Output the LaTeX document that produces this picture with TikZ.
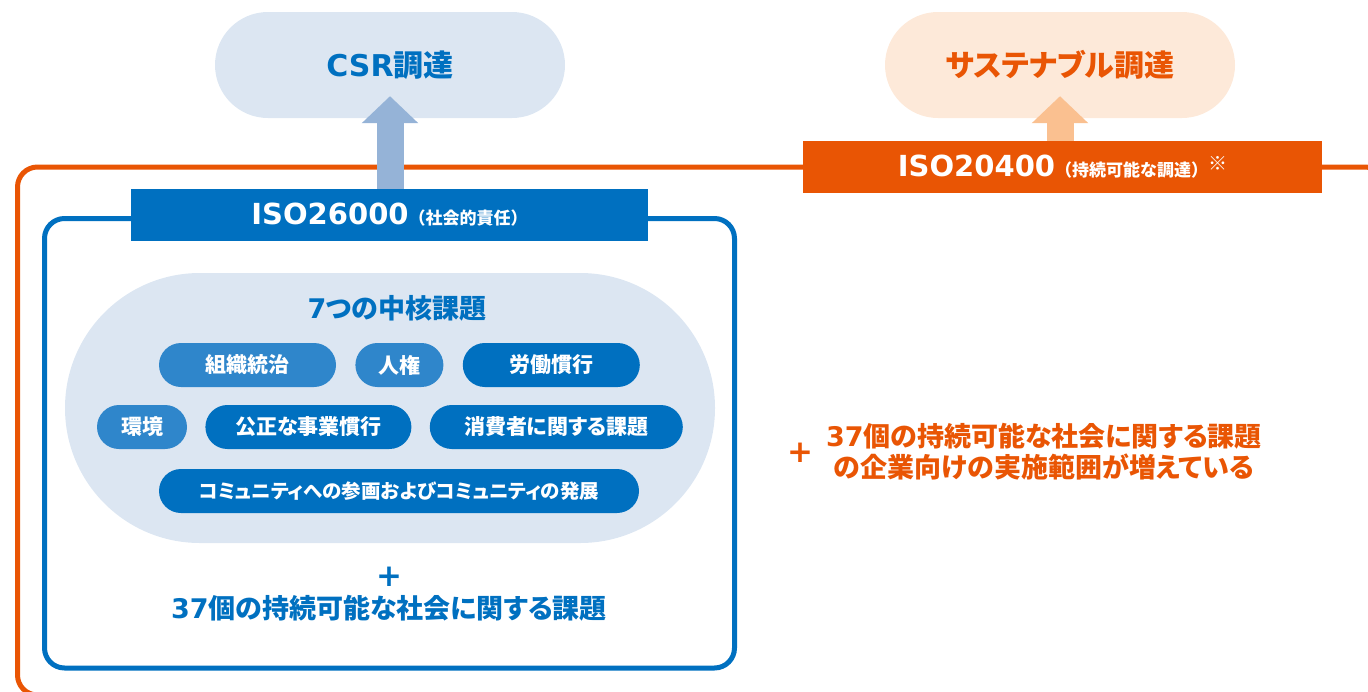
\documentclass[tikz,border=0pt]{standalone}
\usepackage{fontspec}
\setmainfont{Noto Sans CJK JP}[RawFeature=+palt]
\newfontfamily\jpfull{Noto Sans CJK JP}
\newfontfamily\enfont{DejaVu Sans}
\usetikzlibrary{arrows.meta,positioning}
\definecolor{isoblue}{HTML}{0070C0}
\definecolor{midblue}{HTML}{2F86CB}
\definecolor{paleblue}{HTML}{DCE6F2}
\definecolor{arrowblue}{HTML}{95B3D7}
\definecolor{isoorange}{HTML}{E95504}
\definecolor{paleorange}{HTML}{FDE9D9}
\definecolor{arroworange}{HTML}{FAC090}
\newcommand{\en}[1]{{\enfont\bfseries #1}}
\newcommand{\px}[1]{\fontsize{#1pt}{#1pt}\selectfont}
\newcommand{\note}[1]{{\jpfull\bfseries\px{17}#1}}
\tikzset{
  goal/.style={rounded corners=53pt, minimum width=350pt, minimum height=106pt, inner sep=0pt, font=\bfseries\px{30}},
  banner/.style={minimum height=52pt, inner sep=0pt, text=white, font=\bfseries\px{29}},
  topic/.style={rounded corners=22pt, minimum height=44pt, inner sep=0pt, text=white, font=\bfseries\px{21}},
  uparrow/.style={line width=27pt, -{Triangle[width=55pt,length=27pt]}},
  frame/.style={line width=5pt, rounded corners=20pt},
}
\begin{document}
\begin{tikzpicture}[x=1pt,y=-1pt]
  \path[use as bounding box,clip] (0,0) rectangle (1368,691);
  %% Frames
  \draw[frame,isoorange] (17.5,167) rectangle (1385,695);
  \draw[frame,isoblue] (44.5,218.5) rectangle (734.5,668);
  %% Goals
  \node[goal,fill=paleblue,text=isoblue] (csr) at (390,65) {\en{CSR}調達};
  \node[goal,fill=paleorange,text=isoorange] (sus) at (1060,65) {サステナブル調達};
  %% Standards
  \node[banner,fill=isoblue,minimum width=517pt] (iso26) at (389.5,215) {\en{ISO26000}\note{（社会的責任）}};
  \node[banner,fill=isoorange,minimum width=519pt] (iso20) at (1062.5,167) {\en{ISO20400}\note{（持続可能な調達）}\raisebox{6pt}{\px{19}※}};
  %% Arrows up
  \draw[uparrow,arrowblue] (csr.south |- iso26.north) -- ([yshift=22pt]csr.south);
  \draw[uparrow,arroworange] (sus.south |- iso20.north) -- ([yshift=22pt]sus.south);
  %% Core subjects
  \node[fill=paleblue,rounded corners=134.9pt,minimum width=650pt,minimum height=270pt] (core) at (390,408) {};
  \node[text=isoblue,font=\bfseries\px{27}] (title) at (397,308) {\en{7}つの中核課題};
  \node[topic,fill=midblue,minimum width=177pt] (gov) at (247.5,365) {組織統治};
  \node[topic,fill=midblue,minimum width=88pt,right=19pt of gov] (rights) {人権};
  \node[topic,fill=isoblue,minimum width=177pt,right=19pt of rights] (labour) {労働慣行};
  \node[topic,fill=midblue,minimum width=90pt] (env) at (142,427) {環境};
  \node[topic,fill=isoblue,minimum width=206pt,right=18pt of env] (fair) {公正な事業慣行};
  \node[topic,fill=isoblue,minimum width=253pt,right=18pt of fair] (consumer) {消費者に関する課題};
  \node[topic,fill=isoblue,minimum width=480pt,font=\bfseries\px{19.5}] (community) at (399,491) {コミュニティへの参画およびコミュニティの発展};
  %% Additional issues
  \node[text=isoblue,font=\px{31}] (plusA) at (389,577) {\en{+}};
  \node[text=isoblue,font=\bfseries\px{27}] (extraA) at (389,608) {\en{37}個の持続可能な社会に関する課題};
  \node[text=isoorange,font=\px{31}] (plusB) at (800,453) {\en{+}};
  \node[text=isoorange,align=center,font=\bfseries\fontsize{27pt}{31pt}\selectfont] (extraB) at (1044,452) {\en{37}個の持続可能な社会に関する課題\\の企業向けの実施範囲が増えている};
\end{tikzpicture}
\end{document}
